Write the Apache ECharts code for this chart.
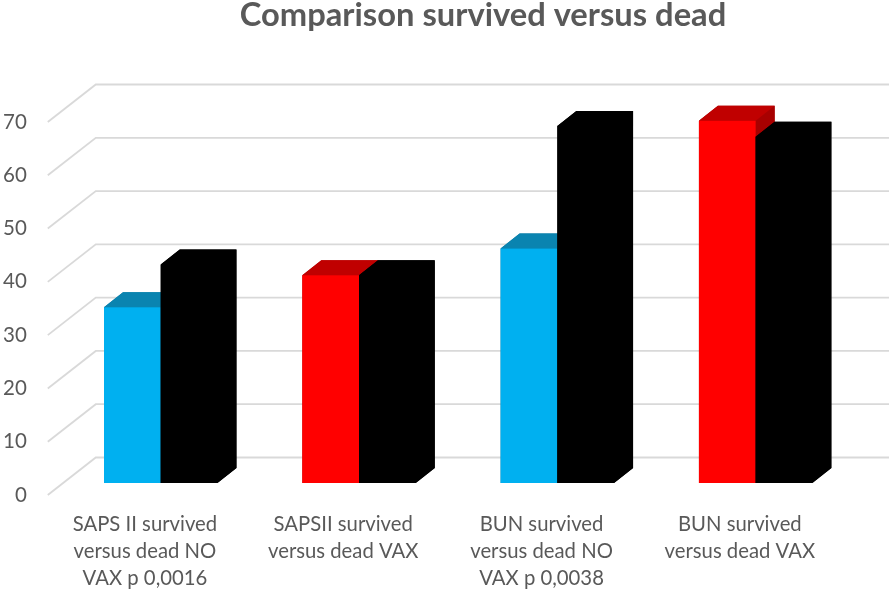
<!DOCTYPE html>
<html>
<head>
<meta charset="utf-8">
<style>html,body{margin:0;padding:0;background:#fff}#c{width:894px;height:595px}</style>
<script src="https://cdn.jsdelivr.net/npm/echarts@6/dist/echarts.min.js"></script>
</head>
<body>
<div id="c"></div>
<script>
var categories = ["SAPS II survived\nversus dead NO\nVAX p 0,0016", "SAPSII survived\nversus dead VAX", "BUN survived\nversus dead NO\nVAX p 0,0038", "BUN survived\nversus dead VAX"];
var survived = [33, 39, 44, 68];
var dead = [41, 39, 67, 65];
var yTicks = [0, 10, 20, 30, 40, 50, 60, 70];
var survivedFront = ["#00b0f0", "#ff0000", "#00b0f0", "#ff0000"];
var survivedTop = ["#0a84b0", "#c00000", "#0a84b0", "#c00000"];
var survivedSide = ["#08739a", "#a80000", "#08739a", "#a80000"];
var deadColor = ["#000000", "#000000", "#000000", "#000000"];

// projection of the pseudo-3D chart (pixels)
var WALL = [48, -37.5], BASE = [13.8, -12], DEPTH = [19, -15], BAR_FRAC = 0.286;

function gridItem(params, api) {
  var cs = params.coordSys, y = api.coord([0, api.value(0)])[1];
  return {
    type: 'polyline', silent: true,
    shape: { points: [[cs.x, y], [cs.x + WALL[0], y + WALL[1]], [cs.x + cs.width + WALL[0], y + WALL[1]]] },
    style: { fill: null, stroke: '#d9d9d9', lineWidth: 1.8 }
  };
}
function barItem(dir, front, top, side) {
  return function (params, api) {
    var i = api.value(0), v = api.value(1);
    var w = api.size([1, 0])[0] * BAR_FRAC;
    var p0 = api.coord([i, 0]), p1 = api.coord([i, v]);
    var x0 = p0[0] + BASE[0] + (dir < 0 ? -w : 0), x1 = x0 + w;
    var yb = p0[1] + BASE[1], yt = p1[1] + BASE[1];
    var dx = DEPTH[0], dy = DEPTH[1];
    return {
      type: 'group', children: [
        { type: 'polygon', shape: { points: [[x0, yb], [x0, yt], [x0 + dx, yt + dy], [x1 + dx, yt + dy], [x1 + dx, yb + dy], [x1, yb]] }, style: { fill: side[i] } },
        { type: 'polygon', shape: { points: [[x1, yt], [x1 + dx, yt + dy], [x1 + dx, yb + dy], [x1, yb]] }, style: { fill: side[i] } },
        { type: 'polygon', shape: { points: [[x0, yt], [x0 + dx, yt + dy], [x1 + dx, yt + dy], [x1, yt]] }, style: { fill: top[i] } },
        { type: 'rect', shape: { x: x0, y: yt, width: w, height: yb - yt }, style: { fill: front[i] } }
      ]
    };
  };
}
function pairs(arr) { return arr.map(function (v, i) { return [i, v]; }); }

var chart = echarts.init(document.getElementById('c'));
chart.setOption({
  animation: false,
  backgroundColor: '#ffffff',
  title: {
    text: 'Comparison survived versus dead', left: 478, top: -6, textAlign: 'center',
    textStyle: { fontFamily: 'Lato', fontWeight: 'bold', fontSize: 32.7, color: '#595959' }
  },
  grid: { left: 46, right: 53, top: 122, bottom: 100, containLabel: false },
  xAxis: {
    type: 'category', data: categories,
    axisLine: { show: false }, axisTick: { show: false },
    axisLabel: { interval: 0, margin: 16, padding: [0, 4, 0, 0], fontFamily: 'Lato', fontSize: 20.3, lineHeight: 27, color: '#595959' }
  },
  yAxis: {
    type: 'value', min: 0, max: 70, interval: 10,
    axisLine: { show: false }, axisTick: { show: false }, splitLine: { show: false },
    axisLabel: { margin: 21, fontFamily: 'Lato', fontSize: 20.5, color: '#595959' }
  },
  series: [
    { type: 'custom', name: 'grid', data: yTicks.map(function (t) { return [t]; }), renderItem: gridItem, encode: { y: 0 }, clip: false, z: 1, silent: true },
    { type: 'custom', name: 'Survived', data: pairs(survived), renderItem: barItem(-1, survivedFront, survivedTop, survivedSide), encode: { x: 0, y: 1 }, clip: false, z: 2 },
    { type: 'custom', name: 'Dead', data: pairs(dead), renderItem: barItem(1, deadColor, deadColor, deadColor), encode: { x: 0, y: 1 }, clip: false, z: 3 }
  ]
});
</script>
</body>
</html>
